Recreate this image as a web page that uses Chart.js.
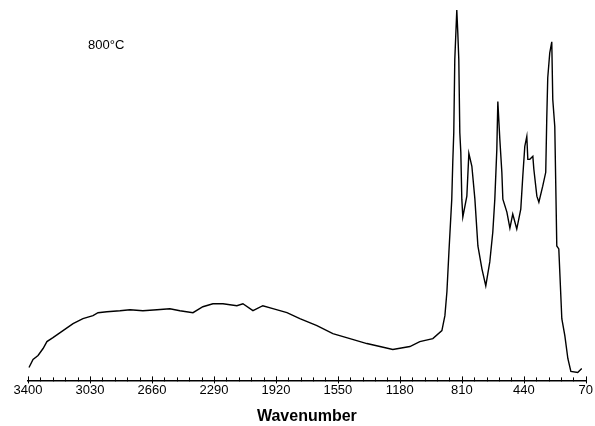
<!DOCTYPE html>
<html>
<head>
<meta charset="utf-8">
<script src="https://cdn.jsdelivr.net/npm/chart.js@4.4.1/dist/chart.umd.min.js"></script>
<style>
    html, body { margin: 0; padding: 0; background: #fff; }
    #wrap { width: 595px; height: 426px; position: relative; }
</style>
</head>
<body>
<div id="wrap"><canvas id="chart"></canvas></div>
<script>
// spectrum (wavenumber, intensity in arbitrary units)
const wavenumbers = [
    3394, 3370, 3340, 3310, 3287, 3251, 3191, 3131, 3072, 3012, 2982, 2929, 2851, 2791,
    2714, 2630, 2553, 2493, 2415, 2356, 2296, 2236, 2153, 2117, 2057, 1998, 1938, 1854,
    1777, 1675, 1580, 1478, 1377, 1299, 1222, 1120, 1061, 983, 929, 911, 899, 887, 870,
    864, 858, 852, 840, 834, 828, 822, 816, 810, 804, 780, 768, 750, 732, 714, 690, 667,
    643, 625, 613, 601, 595, 583, 571, 565, 541, 523, 506, 482, 458, 446, 434, 422, 416,
    404, 386, 380, 362, 350, 327, 309, 303, 297, 285, 273, 267, 255, 249, 243, 231, 213,
    195, 177, 159, 118, 94
]
const intensity = [
    0.13, 0.21, 0.25, 0.32, 0.39, 0.43, 0.50, 0.57, 0.62, 0.65, 0.68, 0.69, 0.70, 0.71,
    0.70, 0.71, 0.72, 0.70, 0.68, 0.74, 0.77, 0.77, 0.75, 0.77, 0.70, 0.75, 0.72, 0.68,
    0.62, 0.55, 0.47, 0.42, 0.37, 0.34, 0.31, 0.34, 0.39, 0.42, 0.50, 0.65, 0.89, 1.29, 1.82,
    2.19, 2.49, 3.22, 3.72, 3.49, 3.22, 2.49, 2.29, 1.82, 1.64, 1.85, 2.28, 2.15, 1.82, 1.35, 1.12, 0.95,
    1.19, 1.49, 1.82, 2.32, 2.80, 2.42, 2.09, 1.82, 1.69, 1.53, 1.67, 1.52, 1.72, 2.05, 2.35, 2.45, 2.22,
    2.22, 2.25, 2.12, 1.85, 1.79, 1.95, 2.09, 2.62, 3.04, 3.29, 3.40, 2.82, 2.55, 1.95, 1.35, 1.32, 0.62,
    0.45, 0.22, 0.09, 0.08, 0.12
]
const tickValues = [3400, 3030, 2660, 2290, 1920, 1550, 1180, 810, 440, 70]
const minorStep = 74
const sampleLabel = '800°C'
const axisTitle = 'Wavenumber'

const points = wavenumbers.map((wn, i) => ({ x: wn, y: intensity[i] }))

// ticks drawn across the axis line, majors a bit longer than minors
const axisTicks = {
    id: 'axisTicks',
    afterDraw(chart) {
        const { ctx, scales: { x } } = chart
        const base = x.top
        ctx.save()
        ctx.strokeStyle = '#000'
        ctx.lineWidth = 1
        for (let v = 3400; v >= 70; v -= minorStep) {
            const px = Math.round(x.getPixelForValue(v)) + 0.5
            ctx.beginPath()
            ctx.moveTo(px, base - 3)
            ctx.lineTo(px, base + 1)
            ctx.stroke()
        }
        tickValues.forEach(v => {
            const px = Math.round(x.getPixelForValue(v)) + 0.5
            ctx.beginPath()
            ctx.moveTo(px, base - 4)
            ctx.lineTo(px, base + 3)
            ctx.stroke()
        })
        ctx.fillStyle = '#000'
        ctx.font = '13px "Liberation Sans", Arial, sans-serif'
        ctx.textBaseline = 'middle'
        ctx.fillText(sampleLabel, 88, 45)
        ctx.restore()
    }
}

new Chart(document.getElementById('chart'), {
    type: 'line',
    data: {
        datasets: [{
            data: points,
            borderColor: '#000',
            borderWidth: 1.4,
            pointRadius: 0,
            tension: 0,
            fill: false
        }]
    },
    options: {
        responsive: true,
        maintainAspectRatio: false,
        animation: false,
        layout: { padding: { left: 28, right: 5, top: 0, bottom: 0 } },
        plugins: { legend: { display: false }, tooltip: { enabled: false } },
        scales: {
            x: {
                type: 'linear',
                reverse: true,
                min: 70,
                max: 3400,
                afterBuildTicks: axis => { axis.ticks = tickValues.map(v => ({ value: v })) },
                grid: { display: false, drawTicks: false },
                border: { display: true, color: '#000', width: 1.5 },
                ticks: {
                    color: '#000',
                    padding: 2,
                    maxRotation: 0,
                    autoSkip: false,
                    callback: v => String(v),
                    font: { family: '"Liberation Sans", Arial, sans-serif', size: 13 }
                },
                title: {
                    display: true,
                    text: axisTitle,
                    color: '#000',
                    padding: { top: 9, bottom: 1 },
                    font: { family: '"Liberation Sans", Arial, sans-serif', size: 16, weight: 'bold', lineHeight: 1 }
                }
            },
            y: {
                display: false,
                min: 0,
                max: 3.82
            }
        }
    },
    plugins: [axisTicks]
})
</script>
</body>
</html>
